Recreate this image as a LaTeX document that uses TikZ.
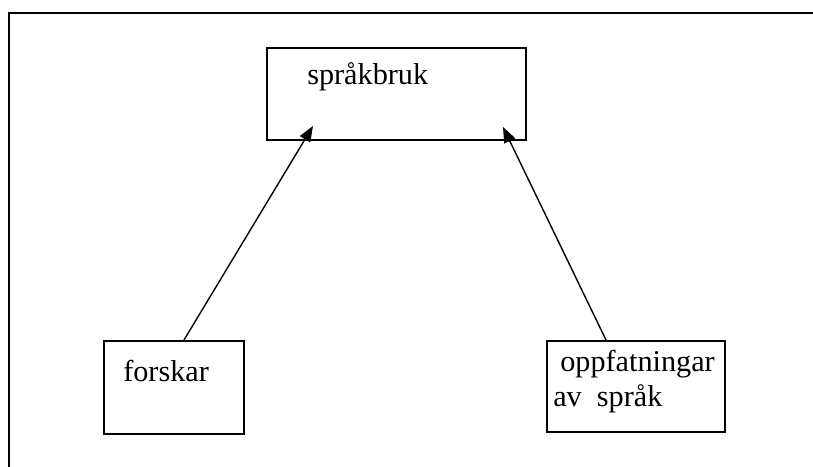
\documentclass[tikz,border=0pt]{standalone}
\usepackage{fontspec}
\setmainfont{Liberation Serif}
\usetikzlibrary{arrows.meta}
\tikzset{
  box/.style={draw, line width=1.2pt, rectangle, inner sep=0pt, anchor=north west},
  lbl/.style={anchor=base west, inner sep=0pt, font=\fontsize{21.5}{24.5}\selectfont},
  pil/.style={line width=1pt, -{Triangle[length=11pt,width=8.5pt]}}
}
\begin{document}
\begin{tikzpicture}
\useasboundingbox (0, 0) rectangle (20.325, 11.675);
\draw[line width=1.4pt] (0.225, 0) -- (0.225, 11.35) -- (20.325, 11.35);

\node[box, minimum width=6.475cm, minimum height=2.3cm] (bruk) at (6.65, 10.5) {};
\node[box, minimum width=3.5cm, minimum height=2.325cm] (forskar) at (2.575, 3.175) {};
\node[box, minimum width=4.45cm, minimum height=2.275cm] (oppf) at (13.65, 3.175) {};

\node[lbl] (t1) at (7.675, 9.55) {språkbruk};
\node[lbl] (t2) at (3.075, 2.125) {forskar};
\node[lbl] (t3) at (14.0, 2.375) {oppfatningar};
\node[lbl] (t4) at (13.825, 1.5) {av\ \ språk};

\coordinate (a1) at (4.6, 3.175);
\coordinate (b1) at (7.825, 8.525);
\coordinate (a2) at (15.15, 3.175);
\coordinate (b2) at (12.575, 8.5);
\draw[pil] (a1) -- (b1);
\draw[pil] (a2) -- (b2);
\end{tikzpicture}
\end{document}
